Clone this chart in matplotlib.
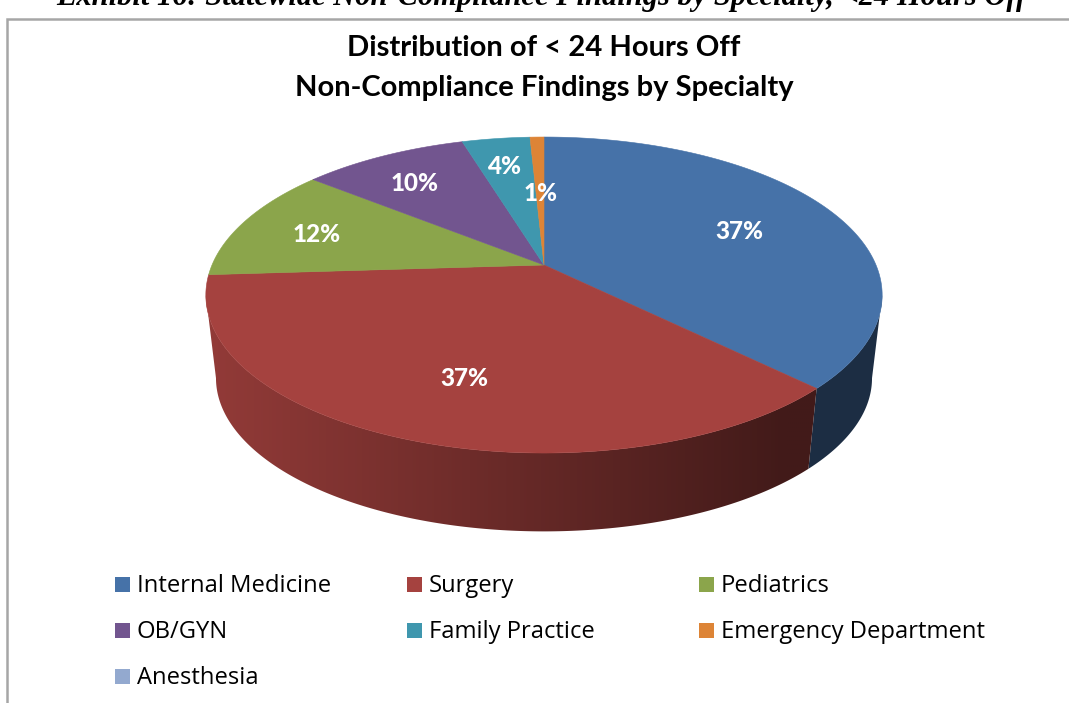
import numpy as np
import matplotlib
matplotlib.use("Agg")
import matplotlib.pyplot as plt
from matplotlib.patches import Polygon, Rectangle

# Chart values (labels are the rounded ones)
specialties = ["Internal Medicine", "Surgery", "Pediatrics", "OB/GYN",
               "Family Practice", "Emergency Department", "Anesthesia"]
shares = [37.4, 36.6, 11.8, 9.5, 3.9, 0.8, 0.0]
colors = ["#4672A8", "#A5423F", "#8BA54B", "#72558F", "#3F97AE", "#DD8436", "#93A9CF"]

exhibit_title = "Exhibit 16: Statewide Non-Compliance Findings by Specialty, <24 Hours Off"
chart_title = ["Distribution of < 24 Hours Off", "Non-Compliance Findings by Specialty"]

# Label placement: fraction of the radius, then a nudge in pixels
label_radius = [0.68, 0.68, 0.75, 0.75, 0.77, 0.52, 0.0]
label_nudge = [(-3, 5), (10, 3), (0, 3), (-5, 3), (-2, 2), (1, 1), (0, 0)]

# Perspective of the disc, in pixels
CX, CY = 544, 265
K = 0.19
TOP_A, TOP_B = 152.3, 332.0
BOT_CY, BOT_SCALE = 349.0, 0.97


def project(t, r=1.0, cy=CY, scale=1.0):
    # t is clockwise from 12 o'clock
    x = r * np.sin(t)
    y = r * np.cos(t)
    d = 1 + K * y
    return CX + scale * TOP_B * x / d, cy - scale * TOP_A * y / d


def shade(x):
    return np.clip(0.88 - 0.50 * (x - 216) / 594, 0.40, 0.90)


fig = plt.figure(figsize=(10.69, 7.03), dpi=100)
ax = fig.add_axes([0, 0, 1, 1])
ax.set_axis_off()

# Frame of the embedded chart
ax.plot([7, 7, 1069], [703, 19, 19], color="#a6a6a6", lw=1.8, solid_joinstyle="miter")

# Side wall, only the front part is visible
t_right = np.arccos(-K)
t_left = 2 * np.pi - t_right
edges = np.cumsum([0] + shares) / 100 * 2 * np.pi
grid_x = np.linspace(200, 900, 350)
for i, col in enumerate(colors):
    t0, t1 = max(edges[i], t_right), min(edges[i + 1], t_left)
    if t1 <= t0:
        continue
    ts = np.linspace(t0, t1, 200)
    tx, ty = project(ts)
    bx, by = project(ts[::-1], cy=BOT_CY, scale=BOT_SCALE)
    wall = Polygon(np.column_stack([np.r_[tx, bx], np.r_[ty, by]]), closed=True,
                   fc="none", ec="none", transform=ax.transData)
    ax.add_patch(wall)
    rgb = np.array(matplotlib.colors.to_rgb(col))
    strip = np.outer(shade(grid_x), rgb)[np.newaxis, :, :]
    im = ax.imshow(strip, extent=[200, 900, 540, 260], aspect="auto",
                   interpolation="bilinear", zorder=2)
    im.set_clip_path(wall)

# Top face
for i, col in enumerate(colors):
    if shares[i] == 0:
        continue
    ts = np.linspace(edges[i], edges[i + 1], 200)
    px, py = project(ts)
    ax.add_patch(Polygon(np.column_stack([np.r_[CX, px], np.r_[CY, py]]), closed=True,
                         fc=col, ec=col, lw=0.4, zorder=3))

# Percent labels
for i, share in enumerate(shares):
    if share == 0:
        continue
    lx, ly = project((edges[i] + edges[i + 1]) / 2, r=label_radius[i])
    ax.text(lx + label_nudge[i][0], ly + label_nudge[i][1], f"{round(share)}%", color="white",
            fontsize=17.5, fontweight=900, family="Lato", ha="center", va="center", zorder=5)

# Titles
ax.text(541, 5, exhibit_title, family="Liberation Serif", style="italic", fontweight="bold",
        fontsize=22, ha="center", va="baseline", color="black")
for line, y in zip(chart_title, [48, 88]):
    ax.text(544, y, line, family="Lato", fontweight="bold", fontsize=21,
            ha="center", va="center", color="black")

# Legend, filled row by row
for i, name in enumerate(specialties):
    row, col = divmod(i, 3)
    lx = 115 + 292 * col
    ly = 584 + 46 * row
    ax.add_patch(Rectangle((lx, ly - 7.5), 15, 15, fc=colors[i], ec="none"))
    ax.text(lx + 22, ly + 2, name, family="Open Sans", fontsize=17.1, ha="left", va="center",
            color="black")

ax.set_xlim(0, 1069)
ax.set_ylim(703, 0)
fig.savefig("out.png", dpi=100, facecolor="white")
